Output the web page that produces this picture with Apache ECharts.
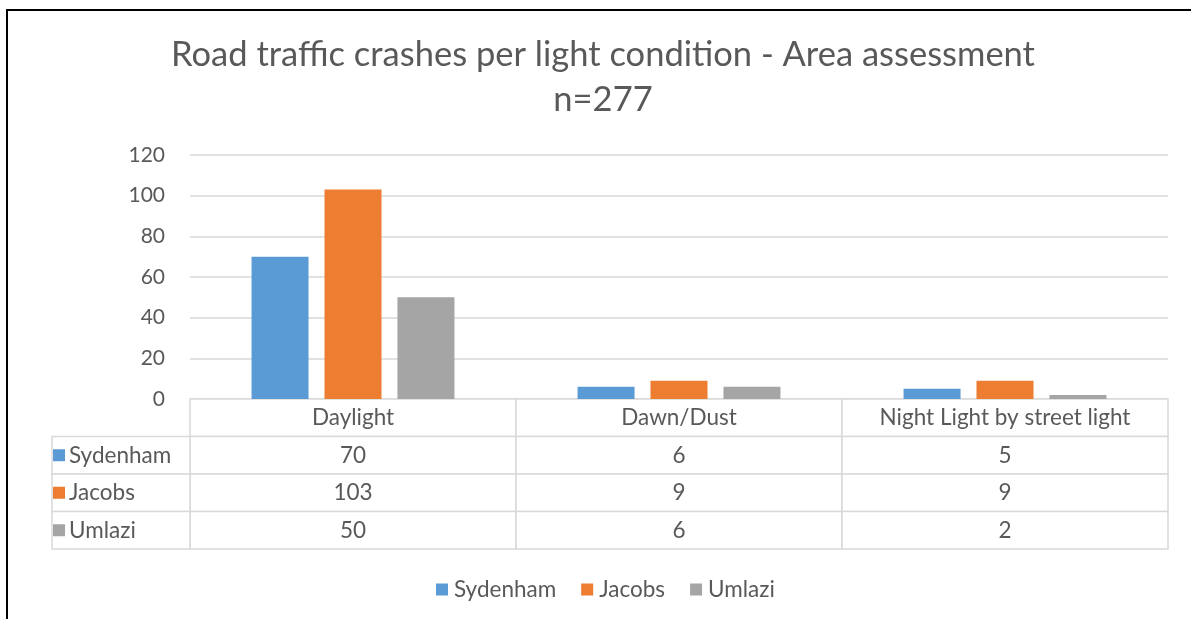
<!DOCTYPE html>
<html>
<head>
<meta charset="utf-8">
<script src="https://cdn.jsdelivr.net/npm/echarts@6/dist/echarts.min.js"></script>
<style>
html,body{margin:0;padding:0;background:#fff;}
#chart{width:1191px;height:619px;}
</style>
</head>
<body>
<div id="chart"></div>
<script>
const titleLines = ['Road traffic crashes per light condition - Area assessment', 'n=277'];
const categories = ['Daylight', 'Dawn/Dust', 'Night Light by street light'];
const seriesNames = ['Sydenham', 'Jacobs', 'Umlazi'];
const sydenham = [70, 6, 5];
const jacobs = [103, 9, 9];
const umlazi = [50, 6, 2];
const colors = ['#5b9bd5', '#ed7d31', '#a5a5a5'];
const yTicks = {min: 0, max: 120, interval: 20};

const seriesValues = [sydenham, jacobs, umlazi];
const FONT = 'Lato';
const TXT = '#595959';
const LINE = '#d9d9d9';
const FS = 22.5;

// table cells: [colIdx, rowIdx], text lookup
const tableCells = [];
const tableTexts = [];
categories.forEach((c, i) => {
  tableCells.push([i, 0]); tableTexts.push(c);
  seriesValues.forEach((vals, j) => {
    tableCells.push([i, j + 1]); tableTexts.push(String(vals[i]));
  });
});
const rowHeads = seriesNames.map((n, j) => [0, j]);

const chart = echarts.init(document.getElementById('chart'));

function cellRect(api) {
  const c = api.coord([api.value(0), api.value(1)]);
  const s = api.size([1, 1]);
  return {x: c[0] - s[0] / 2, y: c[1] - s[1] / 2, w: s[0], h: s[1], cx: c[0], cy: c[1]};
}

chart.setOption({
  animation: false,
  color: colors,
  textStyle: {fontFamily: FONT},
  title: {
    text: titleLines.join('\n'),
    left: 603, top: 32, textAlign: 'center', padding: 0,
    textStyle: {fontFamily: FONT, fontSize: 34.5, fontWeight: 'normal', color: TXT, lineHeight: 45}
  },
  legend: {
    data: seriesNames,
    left: 431, top: 573,
    icon: 'rect', itemWidth: 12, itemHeight: 12, itemGap: 25,
    textStyle: {fontFamily: FONT, fontSize: FS, color: TXT, padding: [0, 0, 0, 1]}
  },
  graphic: [{
    type: 'rect', shape: {x: 7, y: 10, width: 1400, height: 800},
    style: {fill: 'none', stroke: '#000', lineWidth: 2}, silent: true, z: 100
  }],
  grid: [
    {left: 190, right: 23, top: 155, height: 244},
    {left: 190, right: 23, top: 399, height: 150},
    {left: 52, width: 138, top: 436.5, height: 112.5}
  ],
  xAxis: [
    {gridIndex: 0, type: 'category', data: categories,
     axisLine: {show: false}, axisTick: {show: false}, axisLabel: {show: false}},
    {gridIndex: 1, type: 'category', data: categories,
     axisLine: {show: false}, axisTick: {show: false}, axisLabel: {show: false}},
    {gridIndex: 2, type: 'category', data: [''],
     axisLine: {show: false}, axisTick: {show: false}, axisLabel: {show: false}}
  ],
  yAxis: [
    {gridIndex: 0, type: 'value', min: yTicks.min, max: yTicks.max, interval: yTicks.interval,
     axisLine: {show: false}, axisTick: {show: false},
     axisLabel: {fontFamily: FONT, fontSize: 21, color: TXT, margin: 25},
     splitLine: {lineStyle: {color: LINE, width: 1.5}}},
    {gridIndex: 1, type: 'category', data: ['', ...seriesNames], inverse: true,
     axisLine: {show: false}, axisTick: {show: false}, axisLabel: {show: false}, splitLine: {show: false}},
    {gridIndex: 2, type: 'category', data: seriesNames, inverse: true,
     axisLine: {show: false}, axisTick: {show: false}, axisLabel: {show: false}, splitLine: {show: false}}
  ],
  series: [
    ...seriesNames.map((n, j) => ({
      name: n, type: 'bar', xAxisIndex: 0, yAxisIndex: 0,
      data: seriesValues[j], barWidth: 57, barGap: '28%',
      itemStyle: {color: colors[j]}
    })),
    {
      type: 'custom', xAxisIndex: 1, yAxisIndex: 1, data: tableCells, silent: true,
      renderItem: function (params, api) {
        const r = cellRect(api);
        return {type: 'group', children: [
          {type: 'rect', shape: {x: r.x, y: r.y, width: r.w, height: r.h},
           style: {fill: '#fff', stroke: LINE, lineWidth: 1.5}},
          {type: 'text', style: {text: tableTexts[params.dataIndex], x: r.cx, y: r.cy,
            align: 'center', verticalAlign: 'middle', fill: TXT, fontSize: FS, fontFamily: FONT}}
        ]};
      }
    },
    {
      type: 'custom', xAxisIndex: 2, yAxisIndex: 2, data: rowHeads, silent: true,
      renderItem: function (params, api) {
        const r = cellRect(api);
        const j = params.dataIndex;
        return {type: 'group', children: [
          {type: 'rect', shape: {x: r.x, y: r.y, width: r.w, height: r.h},
           style: {fill: '#fff', stroke: LINE, lineWidth: 1.5}},
          {type: 'rect', shape: {x: r.x + 1, y: r.cy - 6, width: 12, height: 12},
           style: {fill: colors[j]}},
          {type: 'text', style: {text: seriesNames[j], x: r.x + 17, y: r.cy,
            align: 'left', verticalAlign: 'middle', fill: TXT, fontSize: FS, fontFamily: FONT}}
        ]};
      }
    }
  ]
});
</script>
</body>
</html>
